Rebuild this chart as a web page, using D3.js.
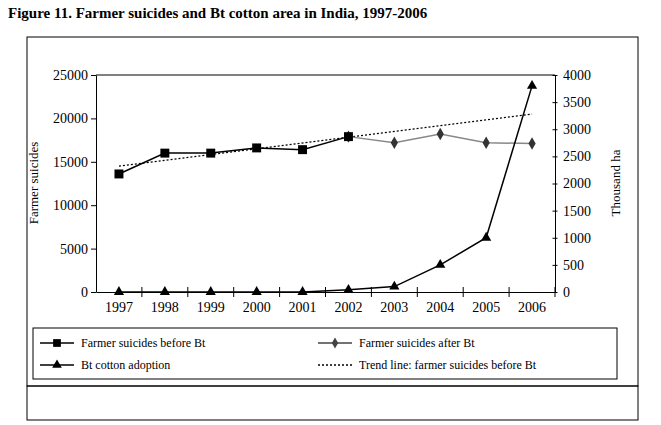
<!DOCTYPE html>
<html><head><meta charset="utf-8">
<script src="https://cdn.jsdelivr.net/npm/d3@7"></script>
<style>body{margin:0;background:#fff}svg text{font-family:"Liberation Serif","DejaVu Serif",serif}</style>
</head><body><svg id="chart" width="661" height="425"></svg>
<script>
var years = ["1997","1998","1999","2000","2001","2002","2003","2004","2005","2006"];
var suicides_before = [13600, 16000, 16000, 16600, 16400, 17900];
var suicides_after = [null, null, null, null, null, 17900, 17200, 18200, 17200, 17100];
var bt_area = [0, 0, 0, 0, 0, 40, 100, 500, 1000, 3800];
var trend_ends = [14500, 20500];
var left_ticks = [0, 5000, 10000, 15000, 20000, 25000];
var right_ticks = [0, 500, 1000, 1500, 2000, 2500, 3000, 3500, 4000];

var svg = d3.select("#chart");
svg.append("text").attr("x", 8).attr("y", 18).attr("font-size", 15).attr("font-weight", "bold")
    .text("Figure 11. Farmer suicides and Bt cotton area in India, 1997-2006");
svg.append("rect").attr("x", 27).attr("y", 37).attr("width", 611).attr("height", 349)
    .attr("fill", "none").attr("stroke", "#000");
svg.append("rect").attr("x", 27).attr("y", 386).attr("width", 611).attr("height", 34)
    .attr("fill", "none").attr("stroke", "#000");

var x = d3.scaleBand().domain(years).range([96, 555]);
var cx = function (d, i) { return x(years[i]) + x.bandwidth() / 2; };
var yl = d3.scaleLinear().domain([0, 25000]).range([292, 75]);
var yr = d3.scaleLinear().domain([0, 4000]).range([292, 75]);

svg.append("g").attr("transform", "translate(96,0)")
    .call(d3.axisLeft(yl).tickValues(left_ticks).tickFormat(d3.format("d")).tickSize(5).tickSizeOuter(0))
    .call(function (g) { g.selectAll("text").attr("font-size", 14); });
svg.append("g").attr("transform", "translate(555,0)")
    .call(d3.axisRight(yr).tickValues(right_ticks).tickFormat(d3.format("d")).tickSize(5).tickSizeOuter(0))
    .call(function (g) { g.selectAll("line").attr("transform", "translate(-2.5,0)");
        g.selectAll("text").attr("font-size", 14); });
var xa = svg.append("g").attr("transform", "translate(0,292)")
    .call(d3.axisBottom(x).tickSize(0).tickPadding(10));
xa.selectAll("text").attr("font-size", 14);
xa.selectAll(".tick").each(function (d) {
    d3.select(this).append("line").attr("x1", x.bandwidth() / 2).attr("x2", x.bandwidth() / 2)
        .attr("y1", -5).attr("y2", 5).attr("stroke", "#000");
});
svg.append("line").attr("x1", 96).attr("x2", 555).attr("y1", 75).attr("y2", 75).attr("stroke", "#000");

svg.append("text").attr("transform", "translate(38,183) rotate(-90)").attr("text-anchor", "middle")
    .attr("font-size", 13).text("Farmer suicides");
svg.append("text").attr("transform", "translate(620,183) rotate(-90)").attr("text-anchor", "middle")
    .attr("font-size", 13).text("Thousand ha");

// trend
svg.append("line").attr("x1", cx(0, 0)).attr("x2", cx(0, 9))
    .attr("y1", yl(trend_ends[0])).attr("y2", yl(trend_ends[1]))
    .attr("stroke", "#000").attr("stroke-dasharray", "2,2").attr("stroke-width", 1.2);

var lineL = d3.line().defined(function (d) { return d != null; }).x(cx).y(function (d) { return yl(d); });
svg.append("path").attr("d", lineL(suicides_after)).attr("fill", "none").attr("stroke", "#888").attr("stroke-width", 1.5);
svg.append("path").attr("d", lineL(suicides_before)).attr("fill", "none").attr("stroke", "#000").attr("stroke-width", 1.5);
var lineR = d3.line().x(cx).y(function (d) { return yr(d); });
svg.append("path").attr("d", lineR(bt_area)).attr("fill", "none").attr("stroke", "#000").attr("stroke-width", 1.5);

var sym = function (t, s) { return d3.symbol().type(t).size(s)(); };
suicides_after.forEach(function (d, i) {
    if (d != null) svg.append("path").attr("d", sym(d3.symbolDiamond, 45))
        .attr("transform", "translate(" + cx(d, i) + "," + yl(d) + ")").attr("fill", "#333");
});
suicides_before.forEach(function (d, i) {
    svg.append("path").attr("d", sym(d3.symbolSquare, 80))
        .attr("transform", "translate(" + cx(d, i) + "," + yl(d) + ")").attr("fill", "#000");
});
bt_area.forEach(function (d, i) {
    svg.append("path").attr("d", sym(d3.symbolTriangle, 45))
        .attr("transform", "translate(" + cx(d, i) + "," + yr(d) + ")").attr("fill", "#000");
});

// legend
svg.append("rect").attr("x", 33).attr("y", 328).attr("width", 584).attr("height", 51)
    .attr("fill", "none").attr("stroke", "#000");
var legend = [
    {x: 40, y: 343, label: "Farmer suicides  before Bt", sym: d3.symbolSquare, s: 60, c: "#000", dash: null},
    {x: 318, y: 343, label: "Farmer suicides  after Bt", sym: d3.symbolDiamond, s: 35, c: "#444", dash: null},
    {x: 40, y: 365, label: "Bt cotton adoption", sym: d3.symbolTriangle, s: 40, c: "#000", dash: null},
    {x: 318, y: 365, label: "Trend line:  farmer suicides before Bt", sym: null, c: "#000", dash: "2,2"}
];
legend.forEach(function (l) {
    svg.append("line").attr("x1", l.x).attr("x2", l.x + 34).attr("y1", l.y).attr("y2", l.y)
        .attr("stroke", l.c).attr("stroke-width", 1.3).attr("stroke-dasharray", l.dash);
    if (l.sym) svg.append("path").attr("d", sym(l.sym, l.s))
        .attr("transform", "translate(" + (l.x + 17) + "," + l.y + ")").attr("fill", l.c);
    svg.append("text").attr("x", l.x + 41).attr("y", l.y + 4).attr("font-size", 12).text(l.label);
});
</script></body></html>
